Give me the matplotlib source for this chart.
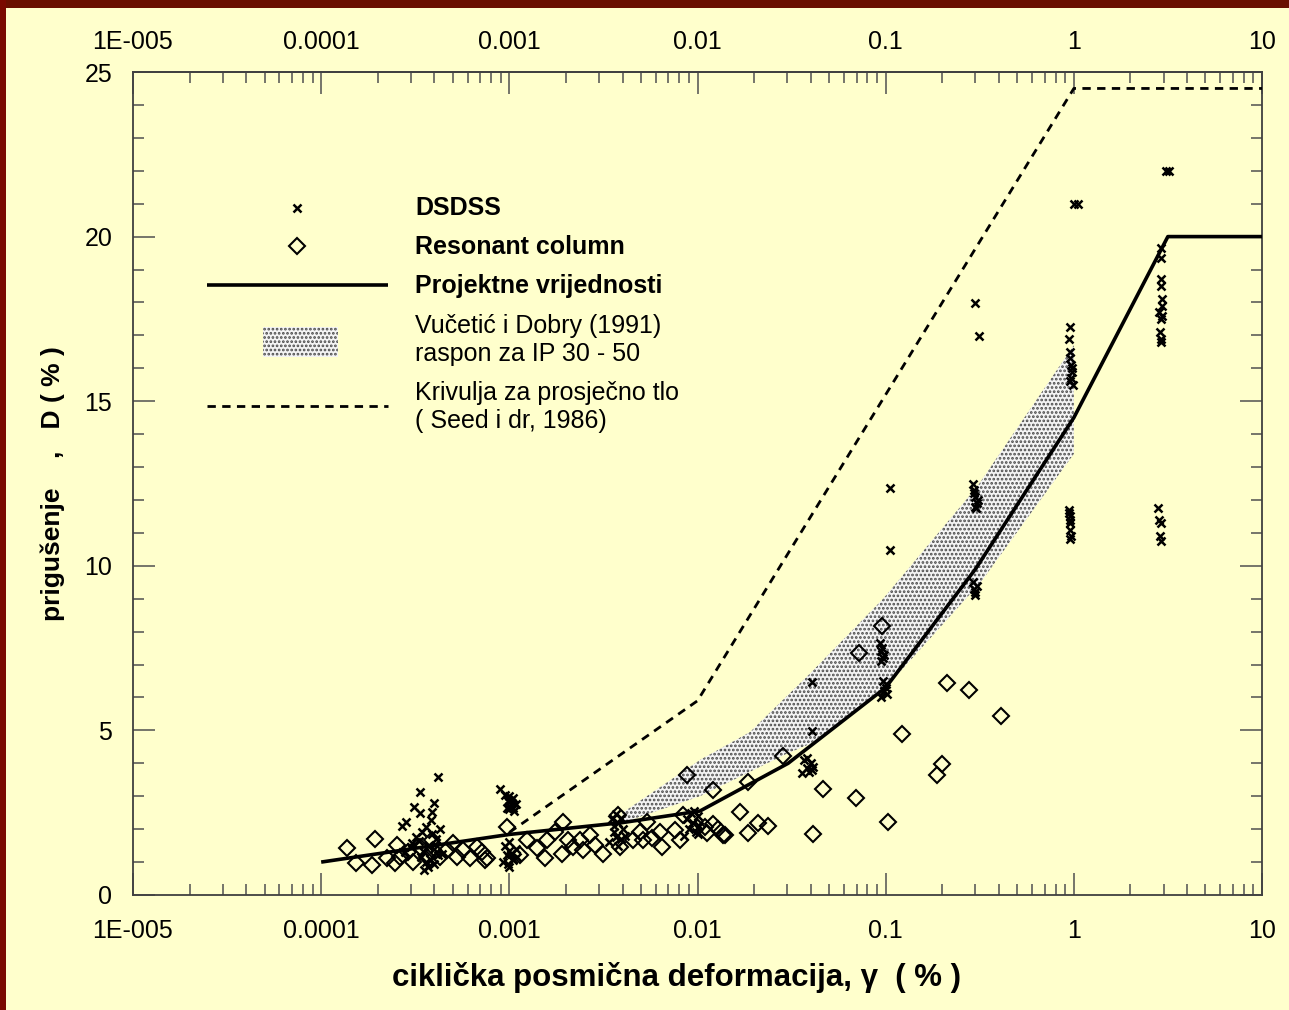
import matplotlib
matplotlib.use('Agg')
import matplotlib.pyplot as plt
from matplotlib.patches import Rectangle, Polygon
import matplotlib.ticker as mticker

plt.rcParams['font.family'] = ['Liberation Sans', 'DejaVu Sans']
plt.rcParams['hatch.linewidth'] = 1.3

# ---------------- data ----------------
x_tick_values = [1e-5, 1e-4, 1e-3, 1e-2, 1e-1, 1, 10]
x_tick_labels = ['1E-005', '0.0001', '0.001', '0.01', '0.1', '1', '10']
y_tick_values = [0, 5, 10, 15, 20, 25]

# Projektne vrijednosti (design curve)
design_x = [1e-4, 0.001, 0.004, 0.0103, 0.0303, 0.1, 0.3, 1.0, 3.16, 10]
design_y = [1.0, 1.84, 2.2, 2.55, 4.0, 6.3, 9.9, 14.5, 20.0, 20.0]

# Seed i dr. (1986) average soil curve
seed_x = [0.001, 0.01, 1.0, 10]
seed_y = [1.9, 5.9, 24.5, 24.5]

# Vucetic & Dobry (1991) band, IP 30-50
band_upper_x = [0.004, 0.0103, 0.019, 0.04, 0.097, 0.306, 1.0]
band_upper_y = [2.5, 4.1, 4.95, 6.75, 9.0, 12.4, 16.7]
band_lower_x = [0.004, 0.0103, 0.03, 0.04, 0.1, 0.32, 1.0]
band_lower_y = [2.2, 3.0, 4.3, 4.6, 6.3, 9.5, 13.4]

# DSDSS test results
dsdss_x = [
    0.000416, 0.000334, 0.00031, 0.000337, 0.000398, 0.00039, 0.000283, 0.00027,
    0.000385, 0.00036, 0.000345, 0.000318, 0.000305, 0.000352, 0.00033, 0.00037,
    0.0004, 0.00035, 0.00042, 0.00038, 0.00036, 0.0004, 0.00034, 0.00041, 0.00039,
    0.00043, 0.00028, 0.0003, 0.00037, 0.00044,
    0.00089, 0.00095, 0.001, 0.00105, 0.00098, 0.00103, 0.00108, 0.00097, 0.001,
    0.00106, 0.00102, 0.00099, 0.00104,
    0.00093, 0.00097, 0.001, 0.00105, 0.00098, 0.00102, 0.00108, 0.00095, 0.001,
    0.00104, 0.0011, 0.00099,
    0.0034, 0.0036, 0.0038, 0.0037, 0.0039, 0.004, 0.0035, 0.0038, 0.0036, 0.0039,
    0.0041, 0.0037,
    0.0085, 0.009, 0.0095, 0.01, 0.0098, 0.0092, 0.0102, 0.0088, 0.0096, 0.0101,
    0.036, 0.038, 0.04, 0.037, 0.039, 0.041, 0.038, 0.0405, 0.0405, 0.0405,
    0.095, 0.098, 0.1, 0.102, 0.097, 0.1, 0.093, 0.095, 0.097, 0.094, 0.096, 0.098,
    0.105, 0.105,
    0.29, 0.295, 0.3, 0.305, 0.298, 0.31, 0.293, 0.302, 0.29, 0.295, 0.3, 0.305,
    0.298, 0.298, 0.315,
    0.955, 0.945, 0.95, 0.96, 0.97, 0.98, 0.965, 0.985, 0.975, 0.96,
    0.945, 0.95, 0.955, 0.96, 0.965, 0.95, 0.958, 0.948, 1.0, 1.05,
    3.1, 3.2, 2.9, 2.9, 2.9, 2.9, 2.95, 2.95, 2.85, 2.9, 2.95, 2.88, 2.9, 2.92,
    2.8, 2.85, 2.9, 2.87, 2.9,
]
dsdss_y = [
    3.57, 3.14, 2.67, 2.50, 2.78, 2.53, 2.23, 2.09,
    2.28, 2.08, 1.92, 1.77, 1.58, 0.76, 1.65, 1.5,
    1.4, 1.3, 1.2, 1.1, 1.0, 0.95, 1.15, 1.7, 1.85,
    2.0, 1.3, 1.45, 0.85, 1.25,
    3.22, 3.05, 3.0, 2.95, 2.85, 2.8, 2.75, 2.65, 2.6,
    2.55, 2.9, 2.7, 2.65,
    1.0, 1.2, 1.35, 1.1, 0.95, 1.25, 1.4, 1.5, 0.85,
    1.05, 1.15, 1.6,
    1.6, 1.9, 2.2, 2.45, 1.7, 2.0, 2.3, 1.5, 2.1, 2.35,
    1.8, 1.75,
    1.8, 2.0, 2.2, 2.4, 1.9, 2.5, 2.1, 2.3, 2.55, 1.85,
    3.7, 3.85, 4.0, 4.1, 3.75, 3.9, 4.15, 3.8, 6.47, 4.98,
    6.0, 6.2, 6.4, 6.1, 6.5, 6.3, 7.65, 7.4, 7.2, 7.1, 7.5, 7.3,
    12.36, 10.48,
    12.5, 12.3, 12.1, 11.9, 11.8, 12.0, 12.2, 11.75, 9.5, 9.3, 9.1, 9.4,
    9.2, 17.98, 16.98,
    17.25, 16.9, 16.5, 16.3, 16.1, 15.9, 15.7, 15.5, 16.0, 15.6,
    11.7, 11.5, 11.3, 11.1, 10.9, 10.8, 11.4, 11.6, 21.0, 21.0,
    22.0, 22.0, 19.65, 19.35, 18.7, 18.5, 18.1, 17.9, 17.7, 17.5, 17.6, 17.1, 16.9, 16.8,
    11.76, 11.4, 11.3, 10.9, 10.75,
]

# Resonant column test results
rc_x = [
    0.000137, 0.000154, 0.000193, 0.000186, 0.000225, 0.000252, 0.000247, 0.000262,
    0.000289, 0.000308, 0.000335, 0.000364, 0.000387, 0.000393, 0.000428, 0.000465,
    0.000504, 0.000525, 0.000569, 0.000618, 0.000671, 0.000713, 0.000758, 0.00097,
    0.00074, 0.00114, 0.00124, 0.0014, 0.00155, 0.00158, 0.00175, 0.00194, 0.0019,
    0.00206, 0.00219, 0.00237, 0.00247, 0.00268, 0.00285, 0.00316, 0.0038, 0.00387,
    0.00456, 0.00495, 0.00537, 0.00515, 0.00571, 0.00632, 0.00645, 0.00759, 0.00807,
    0.0084, 0.00876, 0.01213, 0.0099, 0.0112, 0.01213, 0.0129, 0.0137,
    0.0186, 0.0286, 0.0168, 0.011, 0.014, 0.0186, 0.021, 0.0238, 0.0412, 0.0465,
    0.0698, 0.0719, 0.0953, 0.1218, 0.1034, 0.199, 0.187, 0.213, 0.277, 0.41,
]
rc_y = [
    1.42, 0.96, 1.70, 0.91, 1.11, 1.52, 0.97, 1.16,
    1.32, 1.01, 1.47, 1.16, 1.67, 1.37, 1.16, 1.37,
    1.57, 1.16, 1.37, 1.11, 1.47, 1.31, 1.11, 2.07,
    1.06, 1.21, 1.67, 1.42, 1.11, 1.67, 1.92, 2.22, 1.26,
    1.67, 1.47, 1.67, 1.37, 1.82, 1.52, 1.26, 2.43, 1.47,
    1.67, 1.92, 2.22, 1.67, 1.72, 1.92, 1.47, 1.97, 1.67,
    2.43, 3.65, 3.19, 2.07, 1.87, 2.17, 2.02, 1.82,
    3.44, 4.22, 2.53, 2.07, 1.82, 1.87, 2.19, 2.09, 1.84, 3.21,
    2.94, 7.34, 8.18, 4.89, 2.23, 3.97, 3.65, 6.45, 6.23, 5.44,
]

legend_labels = ['DSDSS', 'Resonant column', 'Projektne vrijednosti',
                 'Vučetić i Dobry (1991)\nraspon za IP 30 - 50',
                 'Krivulja za prosječno tlo\n( Seed i dr, 1986)']

# ---------------- figure ----------------
W, H = 1289, 1010
BG = '#FFFFCC'
TICK = '#505050'
BAND_FACE = '#f4f4f4'
BAND_DOTS = '#4a4a4a'
fig = plt.figure(figsize=(W / 100, H / 100), dpi=100, facecolor=BG)

# maroon frame strips (top and left)
fig.patches.append(Rectangle((0, 1 - 8 / H), 1, 8 / H, transform=fig.transFigure,
                             facecolor='#6a1000', edgecolor='none', zorder=0))
fig.patches.append(Rectangle((0, 0), 6 / W, 1, transform=fig.transFigure,
                             facecolor='#7a0a00', edgecolor='none', zorder=0))

ax = fig.add_axes([133 / W, 1 - 895 / H, (1262 - 133) / W, (895 - 72) / H])
ax.set_facecolor(BG)
ax.set_xscale('log')
ax.set_xlim(1e-5, 10)
ax.set_ylim(0, 25)

# band
band_poly = list(zip(band_upper_x, band_upper_y)) + list(zip(band_lower_x[::-1], band_lower_y[::-1]))
ax.add_patch(Polygon(band_poly, closed=True, facecolor=BAND_FACE, edgecolor=BAND_DOTS,
                     linewidth=0, hatch='....', zorder=1))

ax.plot(seed_x, seed_y, color='black', lw=2.0, linestyle=(0, (3.0, 2.3)), zorder=3)
ax.plot(design_x, design_y, color='black', lw=2.6, solid_capstyle='butt', zorder=4)

ax.plot(rc_x, rc_y, linestyle='none', marker='D', ms=7.8, mfc='none', mec='black',
        mew=1.5, zorder=5)
ax.plot(dsdss_x, dsdss_y, linestyle='none', marker='x', ms=6, mec='black',
        mew=1.8, zorder=6)

# ticks
ax.xaxis.set_major_locator(mticker.FixedLocator(x_tick_values))
ax.xaxis.set_major_formatter(mticker.FixedFormatter(x_tick_labels))
ax.xaxis.set_minor_locator(mticker.LogLocator(base=10, subs=range(2, 10), numticks=20))
ax.xaxis.set_minor_formatter(mticker.NullFormatter())
ax.yaxis.set_major_locator(mticker.FixedLocator(y_tick_values))
ax.yaxis.set_minor_locator(mticker.MultipleLocator(1))

ax.tick_params(which='both', direction='in', top=True, right=True, labeltop=False,
               color=TICK, width=1.1, labelsize=18)
ax.tick_params(which='major', length=16)
ax.tick_params(which='minor', length=8)
ax.tick_params(axis='x', which='major', pad=17)
ax.tick_params(axis='y', which='major', pad=15)
for s in ax.spines.values():
    s.set_color('#404040')
    s.set_linewidth(1.3)

# top tick labels (separate pad)
sec = ax.secondary_xaxis('top')
sec.xaxis.set_major_locator(mticker.FixedLocator(x_tick_values))
sec.xaxis.set_major_formatter(mticker.FixedFormatter(x_tick_labels))
sec.xaxis.set_minor_locator(mticker.NullLocator())
sec.tick_params(which='both', length=0, pad=13, labelsize=18)
sec.spines['top'].set_color('#404040')
sec.spines['top'].set_linewidth(1.3)

ax.set_xlabel('ciklička posmična deformacija, γ  ( % )', fontsize=22.5, fontweight='bold',
              labelpad=14)
ax.xaxis.label.set_x((676 - 133) / (1262 - 133))
ax.set_ylabel('prigušenje    ,   D ( % )', fontsize=19, fontweight='bold', labelpad=14)

# ---------------- legend (drawn in pixel coordinates) ----------------
lax = fig.add_axes([0, 0, 1, 1], facecolor='none')
lax.set_xlim(0, W)
lax.set_ylim(H, 0)
lax.axis('off')
lax.plot([297], [208], marker='x', ms=6, mew=1.8, color='black', linestyle='none')
lax.plot([297], [246], marker='D', ms=7.8, mfc='none', mec='black', mew=1.5, linestyle='none')
lax.plot([207, 388], [285, 285], color='black', lw=2.6, solid_capstyle='butt')
lax.add_patch(Rectangle((263, 327), 75, 30, facecolor=BAND_FACE, edgecolor=BAND_DOTS,
                        linewidth=0, hatch='....'))
lax.plot([207, 388], [406, 406], color='black', lw=2.0, linestyle=(0, (3.0, 2.3)))

tx = 415
lax.text(tx, 208, legend_labels[0], fontsize=18, fontweight='bold', va='center', ha='left')
lax.text(tx, 247, legend_labels[1], fontsize=18, fontweight='bold', va='center', ha='left')
lax.text(tx, 286, legend_labels[2], fontsize=18, fontweight='bold', va='center', ha='left')
lax.text(tx, 340, legend_labels[3], fontsize=18, va='center', ha='left', linespacing=1.25)
lax.text(tx, 407, legend_labels[4], fontsize=18, va='center', ha='left', linespacing=1.25)

fig.savefig('out.png', dpi=100, facecolor=BG)
